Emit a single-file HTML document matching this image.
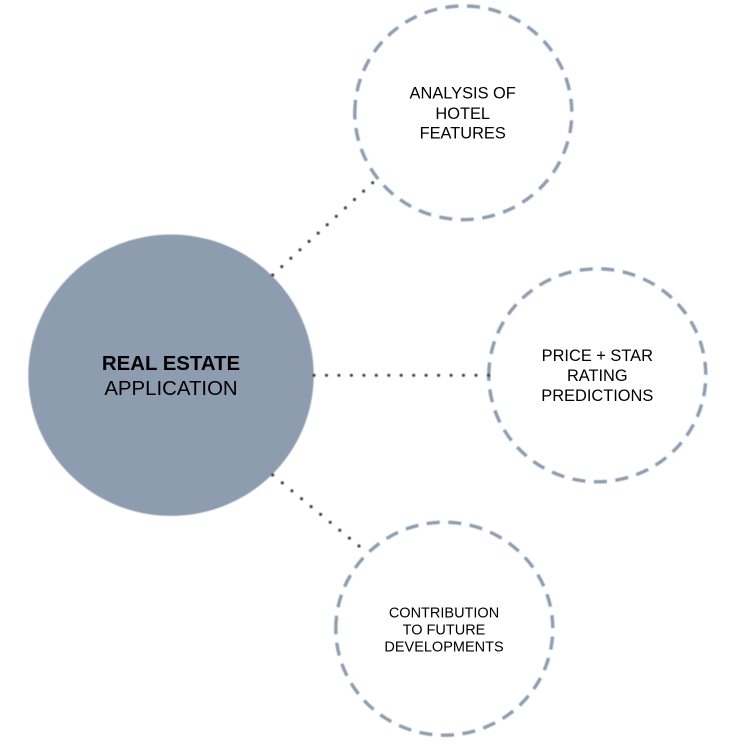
<!DOCTYPE html>
<html>
<head>
<meta charset="utf-8">
<style>
html,body{margin:0;padding:0;background:#fff;width:730px;height:748px;overflow:hidden}
svg{display:block}
.s{filter:blur(.4px)}
.t{filter:blur(.2px)}
text{font-family:"Liberation Sans",sans-serif;fill:#000;text-anchor:middle}
.d{fill:none;stroke:#8d9db0;stroke-width:3.4;stroke-dasharray:13 8.6}
circle{fill:#444}
</style>
</head>
<body>
<svg width="730" height="748" viewBox="0 0 730 748" xmlns="http://www.w3.org/2000/svg">
<g class="s">
<ellipse cx="171" cy="375.2" rx="142.7" ry="140.7" fill="#8d9daf"/>
<path class="d" d="M354.8,112.8A108.5,106.8 0 1 1 571.8,112.8A108.5,106.8 0 1 1 354.8,112.8Z"/>
<path class="d" d="M488.8,375.3A108.5,106.5 0 1 1 705.8,375.3A108.5,106.5 0 1 1 488.8,375.3Z"/>
<path class="d" d="M335.8,628.7A108.5,106.5 0 1 1 552.8,628.7A108.5,106.5 0 1 1 335.8,628.7Z"/>
<circle cx="272.7" cy="275" r="1.6"/><circle cx="281.8" cy="266.6" r="1.6"/><circle cx="290.9" cy="258.2" r="1.6"/><circle cx="300" cy="249.8" r="1.6"/><circle cx="309.1" cy="241.4" r="1.6"/><circle cx="318.2" cy="233.1" r="1.6"/><circle cx="327.2" cy="224.7" r="1.6"/><circle cx="336.3" cy="216.3" r="1.6"/><circle cx="345.4" cy="207.9" r="1.6"/><circle cx="354.5" cy="199.5" r="1.6"/><circle cx="363.6" cy="191.1" r="1.6"/><circle cx="372.7" cy="182.7" r="1.6"/>
<circle cx="314" cy="375.3" r="1.6"/><circle cx="326.5" cy="375.3" r="1.6"/><circle cx="338.9" cy="375.3" r="1.6"/><circle cx="351.4" cy="375.3" r="1.6"/><circle cx="363.9" cy="375.3" r="1.6"/><circle cx="376.3" cy="375.3" r="1.6"/><circle cx="388.8" cy="375.3" r="1.6"/><circle cx="401.2" cy="375.3" r="1.6"/><circle cx="413.7" cy="375.3" r="1.6"/><circle cx="426.1" cy="375.3" r="1.6"/><circle cx="438.6" cy="375.3" r="1.6"/><circle cx="451.1" cy="375.3" r="1.6"/><circle cx="463.5" cy="375.3" r="1.6"/><circle cx="476" cy="375.3" r="1.6"/><circle cx="488.5" cy="375.3" r="1.6"/>
<circle cx="272.7" cy="475" r="1.6"/><circle cx="282.3" cy="482.9" r="1.6"/><circle cx="291.9" cy="490.8" r="1.6"/><circle cx="301.5" cy="498.7" r="1.6"/><circle cx="311.1" cy="506.6" r="1.6"/><circle cx="320.6" cy="514.4" r="1.6"/><circle cx="330.2" cy="522.3" r="1.6"/><circle cx="339.8" cy="530.2" r="1.6"/><circle cx="349.4" cy="538.1" r="1.6"/><circle cx="359" cy="546" r="1.6"/>
</g>
<g class="t">
<text x="171" y="370" font-size="20.4" font-weight="bold">REAL ESTATE</text>
<text x="171" y="395" font-size="20.4">APPLICATION</text>
<text x="462.7" y="98.7" font-size="16.4">ANALYSIS OF</text>
<text x="462.7" y="119" font-size="16.4">HOTEL</text>
<text x="462.7" y="138.7" font-size="16.4">FEATURES</text>
<text x="597.3" y="361" font-size="16.4">PRICE + STAR</text>
<text x="597.3" y="381" font-size="16.4">RATING</text>
<text x="597.3" y="401" font-size="16.4">PREDICTIONS</text>
<text x="444" y="617.3" font-size="14.5">CONTRIBUTION</text>
<text x="444" y="634.3" font-size="14.5">TO FUTURE</text>
<text x="444" y="651.3" font-size="14.5">DEVELOPMENTS</text>
</g>
</svg>
</body>
</html>
